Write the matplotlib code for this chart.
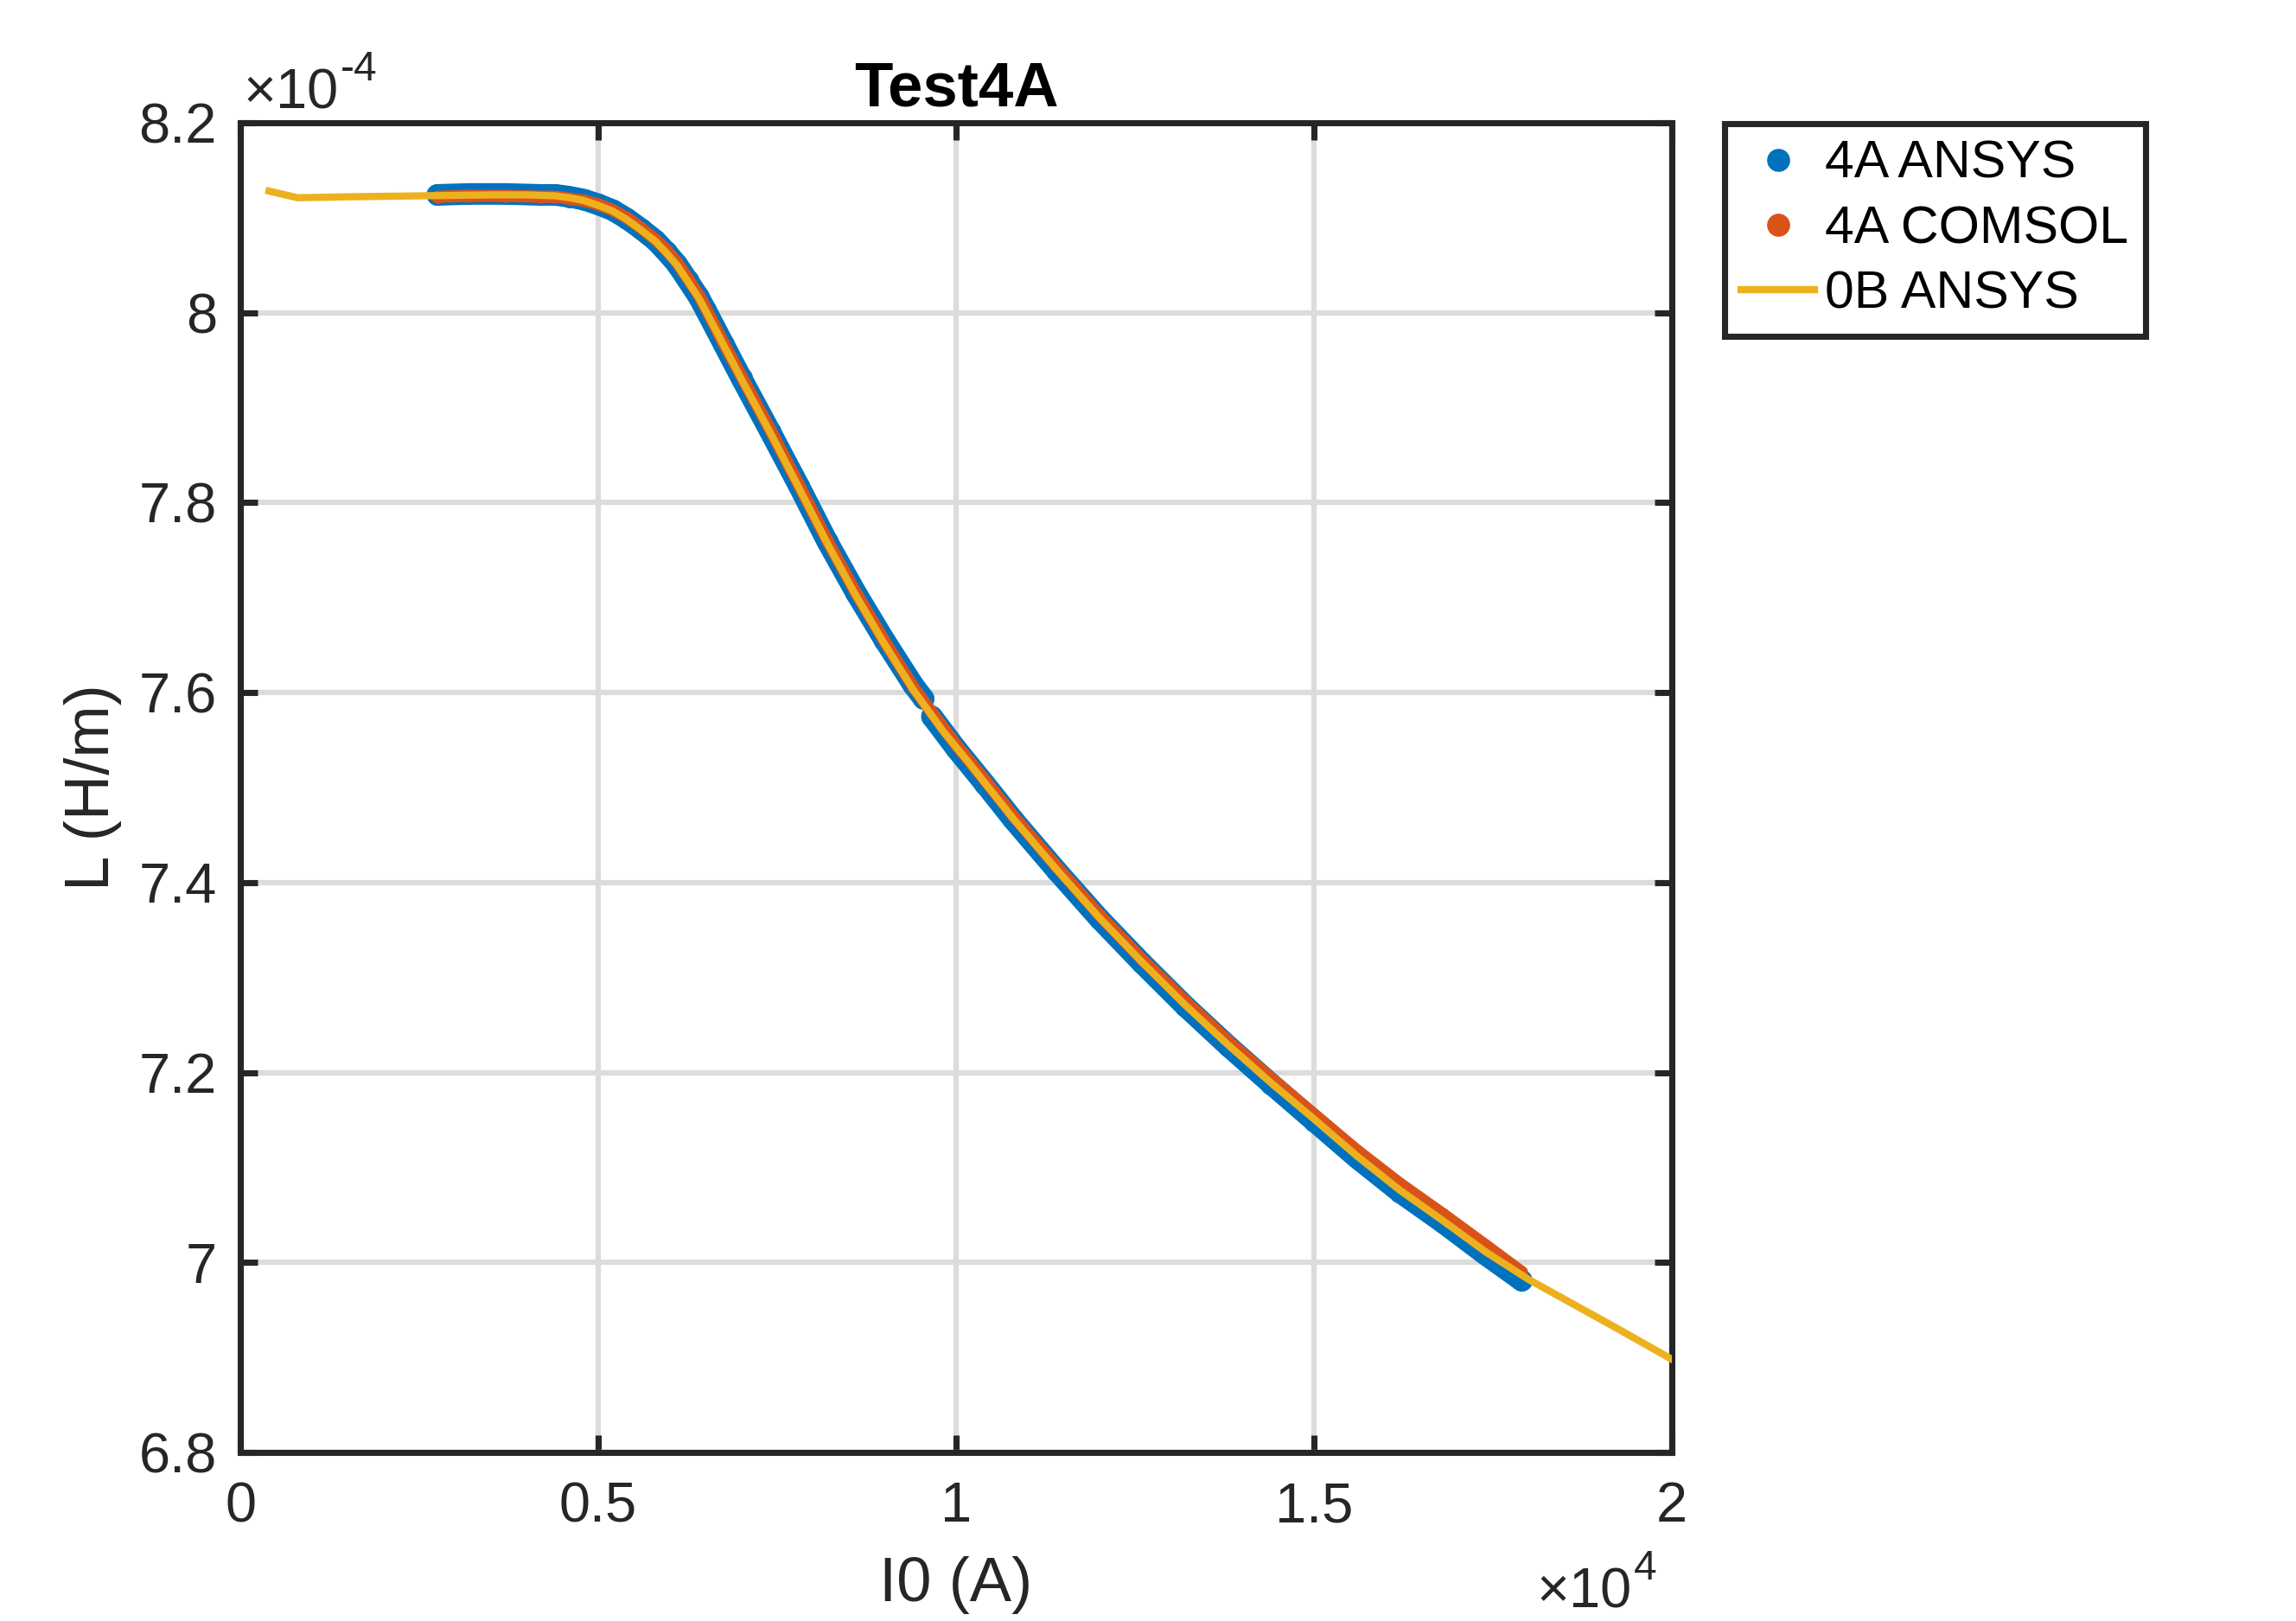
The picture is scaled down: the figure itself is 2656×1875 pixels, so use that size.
import numpy as np
import matplotlib
matplotlib.use("Agg")
import matplotlib.pyplot as plt
from matplotlib.ticker import FuncFormatter

plt.rcParams["font.family"] = ["Liberation Sans", "DejaVu Sans"]

# values (current in A, inductance in 1e-4 H/m)
current_0b = [400, 800, 1500, 2500, 3500, 4000, 4400, 4600, 4800, 5000, 5200,
              5400, 5600, 5800, 5950, 6100, 6250, 6400, 6500, 6750, 7000, 7400,
              7800, 8200, 8600, 9000, 9400, 9800, 10200, 10800, 11400, 12000,
              12600, 13200, 13800, 14400, 15000, 15600, 16200, 16800, 17400,
              18000, 18600, 19200, 20000]
ind_0b = [8.128, 8.121, 8.122, 8.123, 8.124, 8.124, 8.123, 8.121, 8.118, 8.113,
          8.107, 8.098, 8.087, 8.075, 8.063, 8.050, 8.033, 8.016, 8.002, 7.966,
          7.930, 7.874, 7.816, 7.757, 7.702, 7.651, 7.603, 7.561, 7.524, 7.467,
          7.414, 7.363, 7.316, 7.271, 7.229, 7.189, 7.151, 7.112, 7.076, 7.044,
          7.011, 6.982, 6.957, 6.932, 6.898]

# 4A ANSYS comes in two runs with a small step near 9.6e3 A
current_4a_low = [2750, 3200, 3700, 4200, 4400, 4600, 4800, 5000, 5200, 5400,
                  5600, 5800, 5950, 6100, 6250, 6400, 6500, 6750, 7000, 7400,
                  7800, 8200, 8600, 9000, 9400, 9540]
ind_4a_ansys_low = [8.124, 8.125, 8.125, 8.124, 8.124, 8.122, 8.119, 8.114,
                    8.108, 8.099, 8.088, 8.076, 8.064, 8.051, 8.034, 8.017,
                    8.003, 7.967, 7.931, 7.875, 7.818, 7.759, 7.705, 7.655,
                    7.608, 7.594]
current_4a_high = [9660, 10000, 10400, 10800, 11400, 12000, 12600, 13200,
                   13800, 14400, 15000, 15600, 16200, 16800, 17400, 17900]
ind_4a_ansys_high = [7.575, 7.541, 7.504, 7.466, 7.413, 7.362, 7.315, 7.270,
                     7.228, 7.188, 7.149, 7.110, 7.074, 7.042, 7.008, 6.981]

current_4a_comsol = [2750, 3200, 3700, 4200, 4400, 4600, 4800, 5000, 5200, 5400,
                     5600, 5800, 5950, 6100, 6250, 6400, 6500, 6750, 7000, 7400,
                     7800, 8200, 8600, 9000, 9400, 9660, 10000, 10400, 10800,
                     11400, 12000, 12600, 13200, 13800, 14400, 15000, 15600,
                     16200, 16800, 17400, 17900]
ind_4a_comsol = [8.122, 8.123, 8.123, 8.122, 8.122, 8.120, 8.118, 8.114, 8.108,
                 8.100, 8.089, 8.077, 8.066, 8.053, 8.036, 8.019, 8.005, 7.968,
                 7.933, 7.877, 7.819, 7.760, 7.705, 7.654, 7.606, 7.579, 7.545,
                 7.508, 7.470, 7.417, 7.366, 7.319, 7.275, 7.233, 7.194, 7.156,
                 7.118, 7.083, 7.051, 7.018, 6.990]

x_ticks = [0, 5000, 10000, 15000, 20000]
y_ticks = [6.8, 7.0, 7.2, 7.4, 7.6, 7.8, 8.0, 8.2]

blue = "#0072BD"
orange = "#D95319"
yellow = "#EDB120"
dark = "#262626"

fig = plt.figure(figsize=(2656 / 300, 1875 / 300), dpi=300)
ax = fig.add_axes([0.1047, 0.104, 0.6235, 0.8203])

scale = 1e-4
band = 6.0

# blue band: thick line under the dots so it reads as a dense run of markers
for xs, ys in [(current_4a_low, ind_4a_ansys_low), (current_4a_high, ind_4a_ansys_high)]:
    ax.plot(xs, np.array(ys) * scale, "-", color=blue, lw=band,
            solid_capstyle="round", solid_joinstyle="round", zorder=3)
    ax.plot(xs, np.array(ys) * scale, "o", color=blue, ms=band, mew=0, zorder=3)

ax.plot(current_4a_comsol, np.array(ind_4a_comsol) * scale, "-", color=orange, lw=3.4,
        solid_capstyle="round", solid_joinstyle="round", zorder=4)
ax.plot(current_4a_comsol, np.array(ind_4a_comsol) * scale, "o", color=orange,
        ms=3.4, mew=0, zorder=4)

ax.plot(current_0b, np.array(ind_0b) * scale, "-", color=yellow, lw=2.0,
        solid_joinstyle="round", zorder=5)

# legend proxies
h1, = ax.plot([], [], "o", color=blue, ms=6.4, mew=0, label="4A ANSYS")
h2, = ax.plot([], [], "o", color=orange, ms=6.4, mew=0, label="4A COMSOL")
h3, = ax.plot([], [], "-", color=yellow, lw=2.0, label="0B ANSYS")

ax.set_xlim(0, 20000)
ax.set_ylim(6.8e-4, 8.2e-4)
ax.set_xticks(x_ticks)
ax.set_yticks([v * scale for v in y_ticks])
ax.xaxis.set_major_formatter(FuncFormatter(lambda v, p: f"{v / 1e4:g}"))
ax.yaxis.set_major_formatter(FuncFormatter(lambda v, p: f"{round(v / 1e-4, 3):g}"))

ax.grid(True, color="#dcdcdc", lw=1.5, zorder=0)
ax.set_axisbelow(True)
for s in ax.spines.values():
    s.set_color(dark)
    s.set_linewidth(1.7)
ax.tick_params(direction="in", top=True, right=True, length=4.8, width=1.7,
               colors=dark, labelsize=15.6)
ax.tick_params(axis="x", pad=8)
ax.tick_params(axis="y", pad=6.5)

ax.set_xlabel("I0 (A)", fontsize=17.4, color=dark)
ax.set_ylabel("L (H/m)", fontsize=17.4, color=dark)
ax.xaxis.set_label_coords(0.5, -0.078)
ax.yaxis.set_label_coords(-0.083, 0.5)
ax.set_title("Test4A", fontsize=17.4, fontweight="bold", pad=4.6)

# axis multipliers, MATLAB style
t1 = ax.text(0.002, 1.0104, "\u00d710", transform=ax.transAxes,
             ha="left", va="baseline", fontsize=15.6, color=dark)
ax.annotate("-4", xy=(1, 1), xycoords=t1, xytext=(0.5, 5), textcoords="offset points",
            ha="left", va="top", fontsize=11.5, color=dark)
t2 = ax.text(0.972, -0.117, "\u00d710", transform=ax.transAxes,
             ha="right", va="baseline", fontsize=15.6, color=dark)
ax.annotate("4", xy=(1, 1), xycoords=t2, xytext=(0.5, 5), textcoords="offset points",
            ha="left", va="top", fontsize=11.5, color=dark)

leg = fig.legend(handles=[h1, h2, h3], loc="upper left",
                 bbox_to_anchor=(0.751, 0.924), bbox_transform=fig.transFigure,
                 borderaxespad=0, fontsize=14.6, frameon=True, fancybox=False,
                 framealpha=1, handlelength=1.4, handletextpad=0.2,
                 labelspacing=0.3, borderpad=0.32)
leg.get_frame().set_edgecolor(dark)
leg.get_frame().set_linewidth(1.7)

fig.savefig("out.png", dpi=300, facecolor="white")
